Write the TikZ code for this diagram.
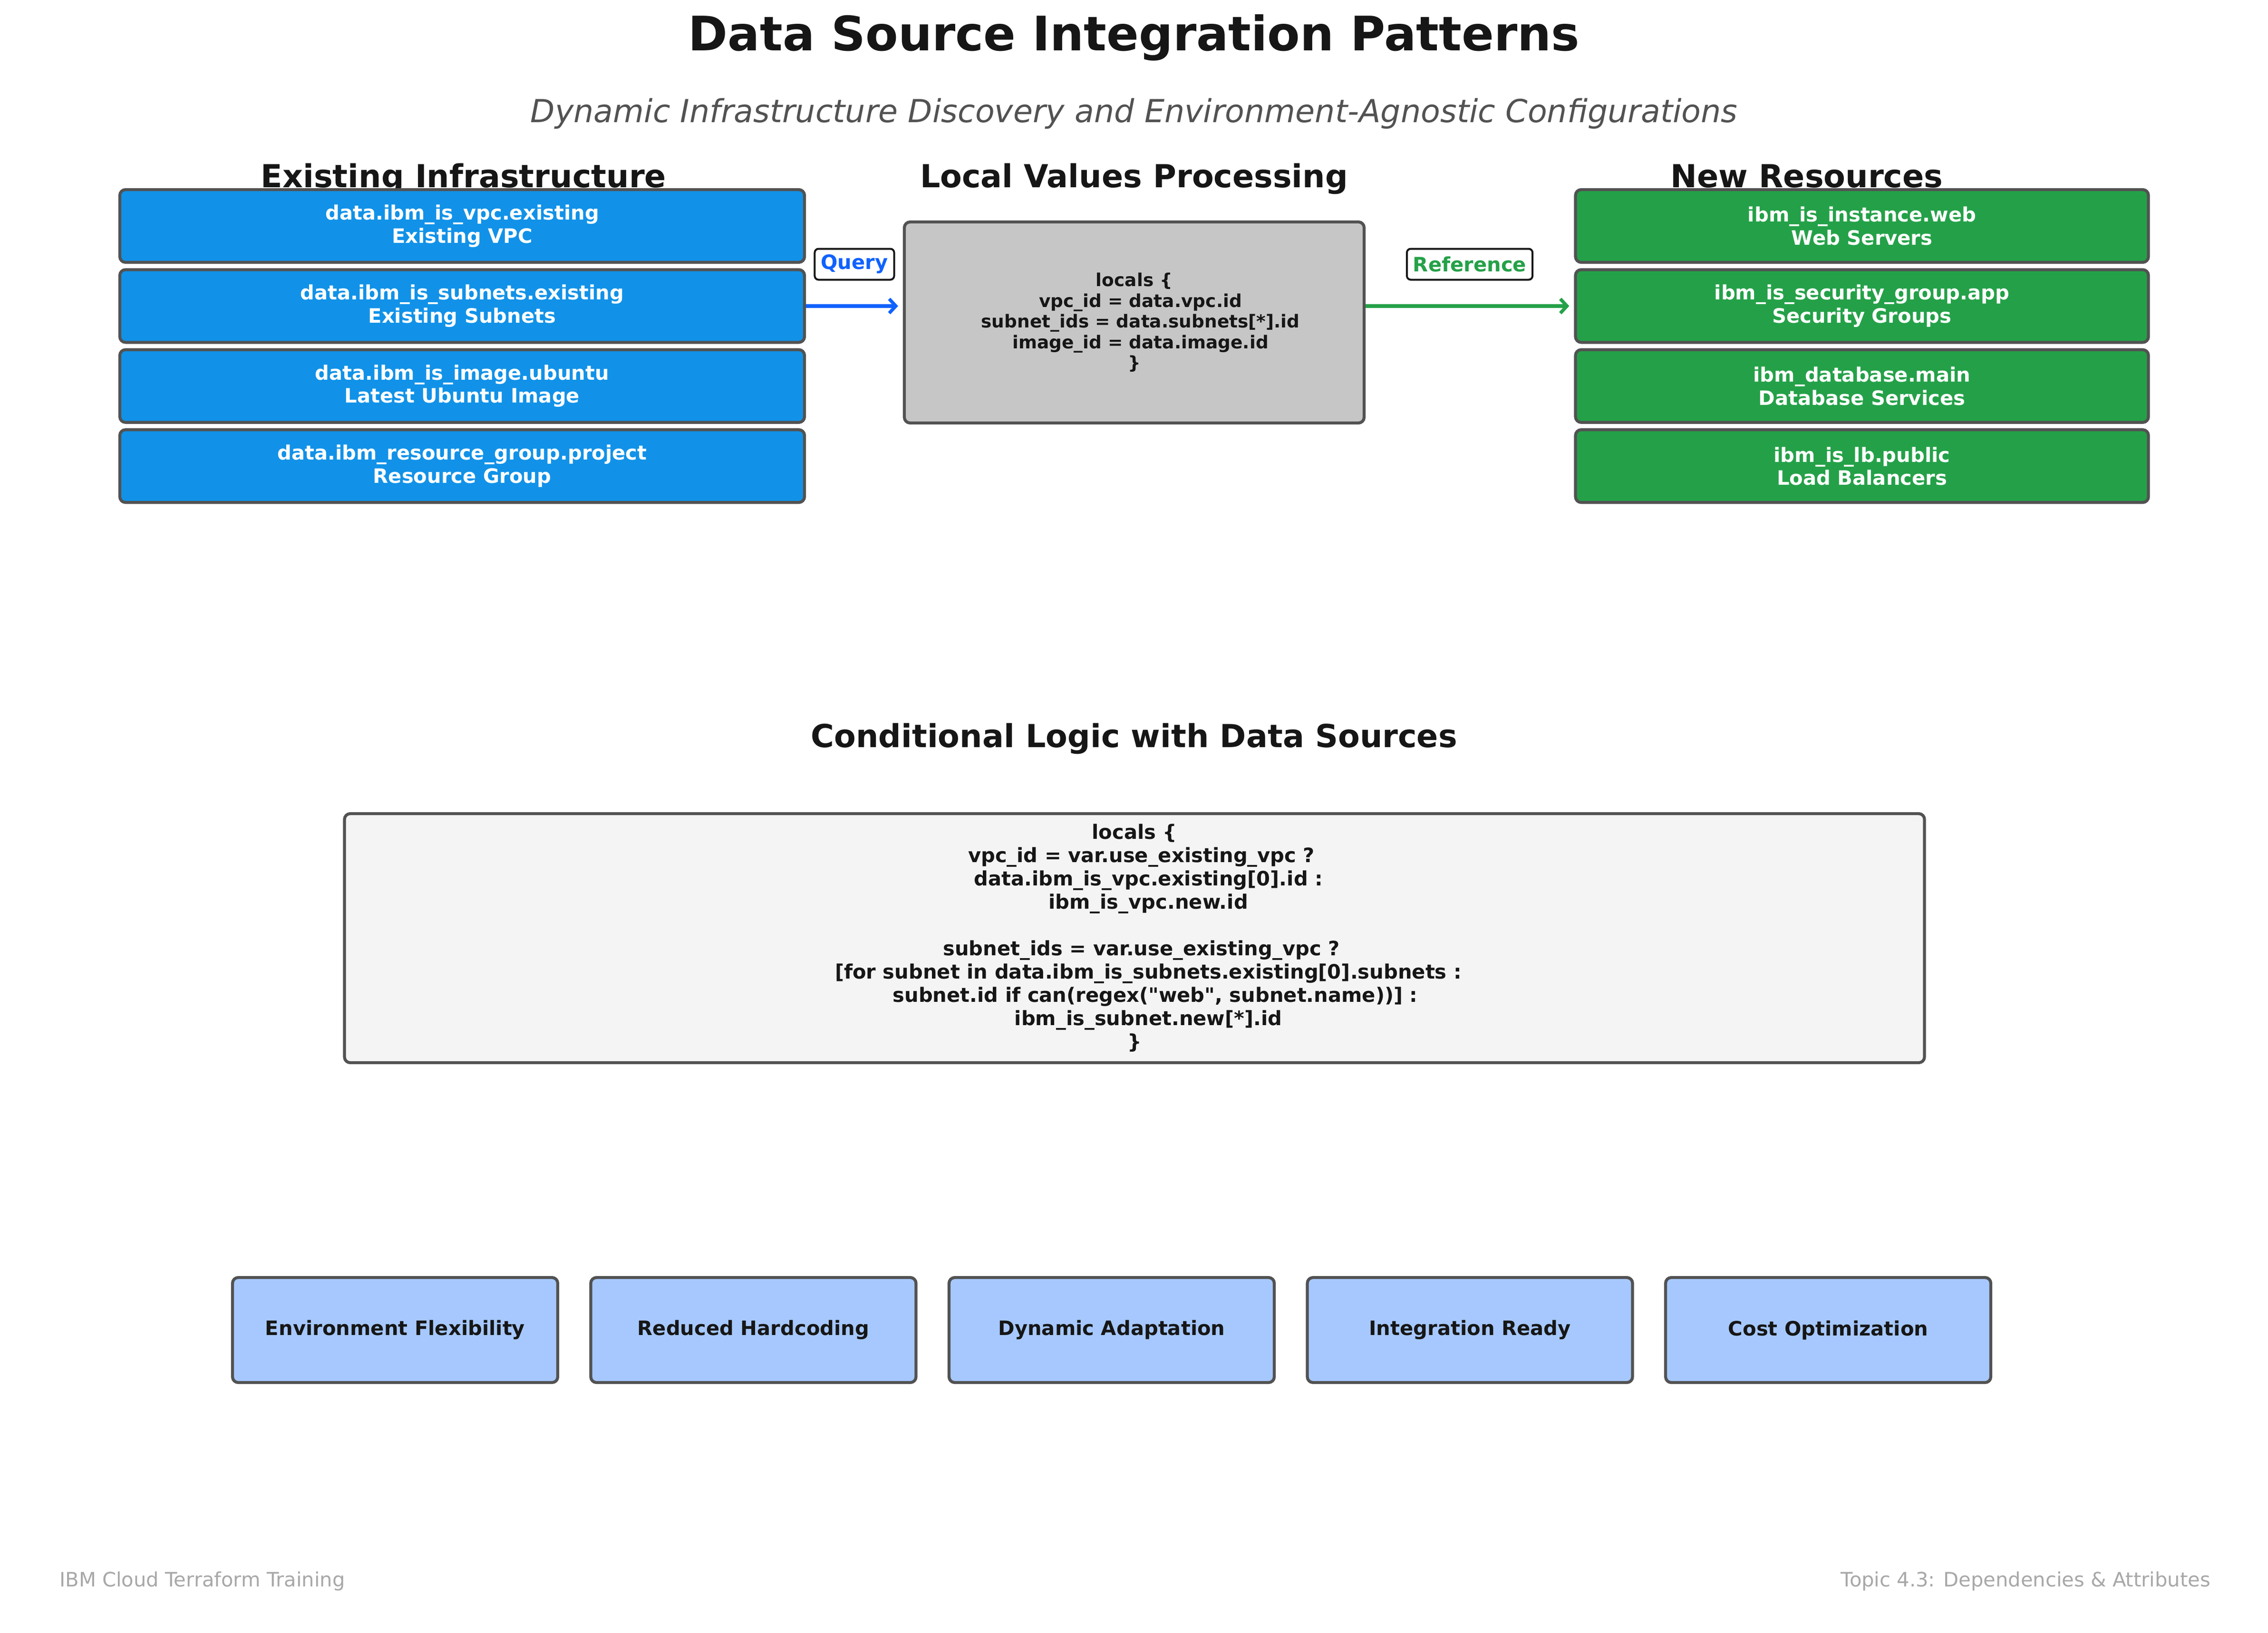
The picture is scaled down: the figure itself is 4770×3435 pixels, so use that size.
\documentclass[tikz,border=0pt]{standalone}
\usepackage{fontspec}
\setmainfont{DejaVu Sans}[Ligatures=TeXOff]
\usetikzlibrary{arrows.meta}
\definecolor{ttl}{HTML}{161616}
\definecolor{subgray}{HTML}{525252}
\definecolor{bordergray}{HTML}{525252}
\definecolor{boxblue}{HTML}{1192E8}
\definecolor{boxgreen}{HTML}{24A148}
\definecolor{boxgray}{HTML}{C6C6C6}
\definecolor{boxlight}{HTML}{F4F4F4}
\definecolor{boxpale}{HTML}{A6C8FF}
\definecolor{qblue}{HTML}{0F62FE}
\definecolor{footgray}{HTML}{A8A8A8}
\newcommand\lead[1]{\hspace*{#1\fontdimen2\font}}
\tikzset{
  titlet/.style={inner sep=0pt, text=ttl, font=\bfseries\fontsize{100}{120}\selectfont},
  subt/.style={inner sep=0pt, text=subgray, font=\itshape\fontsize{66.67}{80}\selectfont},
  hdr/.style={inner sep=0pt, text=ttl, font=\bfseries\fontsize{66.67}{80}\selectfont},
  basebox/.style={draw=bordergray, line width=6.25pt, rounded corners=12pt, align=center, inner sep=0pt},
  srcbox/.style={basebox, fill=boxblue, text=white, minimum width=1440pt, minimum height=153pt,
    font=\bfseries\fontsize{41.67}{48.5}\selectfont},
  resbox/.style={basebox, fill=boxgreen, text=white, minimum width=1205pt, minimum height=153pt,
    font=\bfseries\fontsize{41.67}{48.5}\selectfont},
  localbox/.style={basebox, fill=boxgray, text=ttl, minimum width=967pt, minimum height=423pt,
    font=\bfseries\fontsize{37.5}{43.6}\selectfont},
  condbox/.style={basebox, fill=boxlight, text=ttl, minimum width=3323pt, minimum height=524pt,
    font=\bfseries\fontsize{41.67}{49}\selectfont},
  benbox/.style={basebox, fill=boxpale, text=ttl, minimum width=684pt, minimum height=221pt,
    font=\bfseries\fontsize{41.67}{48.5}\selectfont},
  lbl/.style={draw=ttl, fill=white, line width=4pt, rounded corners=8pt, inner xsep=13pt,
    minimum height=65pt, font=\bfseries\fontsize{41.67}{48.5}\selectfont},
  flow/.style={line width=8pt, shorten >=10pt, -{Straight Barb[length=14pt,width=30pt,line width=7pt]}},
  foot/.style={inner sep=0pt, text=footgray, font=\fontsize{41.67}{50}\selectfont}
}
\begin{document}
\begin{tikzpicture}[x=1pt,y=-1pt]
\fill[white] (0,0) rectangle (4770,3435);
\useasboundingbox (0,0) rectangle (4770,3435);

\node[titlet, anchor=base] (title) at (2385,106) {Data Source Integration Patterns};
\node[subt, anchor=base] (subtitle) at (2385,257) {Dynamic Infrastructure Discovery and Environment-Agnostic Configurations};

\node[hdr, anchor=base] (h1) at (975,394) {Existing Infrastructure};
\node[hdr, anchor=base] (h2) at (2385,394) {Local Values Processing};
\node[hdr, anchor=base] (h3) at (3800,394) {New Resources};

\node[srcbox] (l1) at (972,475.5) {data.ibm\_is\_vpc.existing\\Existing VPC};
\node[srcbox] (l2) at (972,643.9) {data.ibm\_is\_subnets.existing\\Existing Subnets};
\node[srcbox] (l3) at (972,812.3) {data.ibm\_is\_image.ubuntu\\Latest Ubuntu Image};
\node[srcbox] (l4) at (972,980.7) {data.ibm\_resource\_group.project\\Resource Group};

\node[localbox] (c) at (2385.5,678.5) {locals \{\\\lead{2}vpc\_id = data.vpc.id\\\lead{2}subnet\_ids = data.subnets[*].id\\\lead{2}image\_id = data.image.id\\\}};

\node[resbox] (r1) at (3916,475.5) {ibm\_is\_instance.web\\Web Servers};
\node[resbox] (r2) at (3916,643.9) {ibm\_is\_security\_group.app\\Security Groups};
\node[resbox] (r3) at (3916,812.3) {ibm\_database.main\\Database Services};
\node[resbox] (r4) at (3916,980.7) {ibm\_is\_lb.public\\Load Balancers};

\draw[flow, qblue] (l2.east) -- (l2.east -| c.west);
\draw[flow, boxgreen] (r2.west -| c.east) -- (r2.west);
\node[lbl, text=qblue] (q) at (1797,556) {Query};
\node[lbl, text=boxgreen] (ref) at (3091,556) {Reference};

\node[hdr, anchor=base] (h4) at (2385,1572) {Conditional Logic with Data Sources};

\node[condbox] (cond) at (2386,1974) {locals \{\\
\lead{2}vpc\_id = var.use\_existing\_vpc ?\\
\lead{4}data.ibm\_is\_vpc.existing[0].id :\\
\lead{4}ibm\_is\_vpc.new.id\\[49pt]
\lead{2}subnet\_ids = var.use\_existing\_vpc ?\\
\lead{4}[for subnet in data.ibm\_is\_subnets.existing[0].subnets :\\
\lead{6}subnet.id if can(regex("web", subnet.name))] :\\
\lead{4}ibm\_is\_subnet.new[*].id\\
\}};

\node[benbox] (b1) at (831,2798.5) {Environment Flexibility};
\node[benbox] (b2) at (1584.5,2798.5) {Reduced Hardcoding};
\node[benbox] (b3) at (2338,2798.5) {Dynamic Adaptation};
\node[benbox] (b4) at (3091.5,2798.5) {Integration Ready};
\node[benbox] (b5) at (3845,2798.5) {Cost Optimization};

\node[foot, anchor=base west] (f1) at (125,3338) {IBM Cloud Terraform Training};
\node[foot, anchor=base east] (f2) at (4649,3338) {Topic 4.3: Dependencies \& Attributes};
\end{tikzpicture}
\end{document}
